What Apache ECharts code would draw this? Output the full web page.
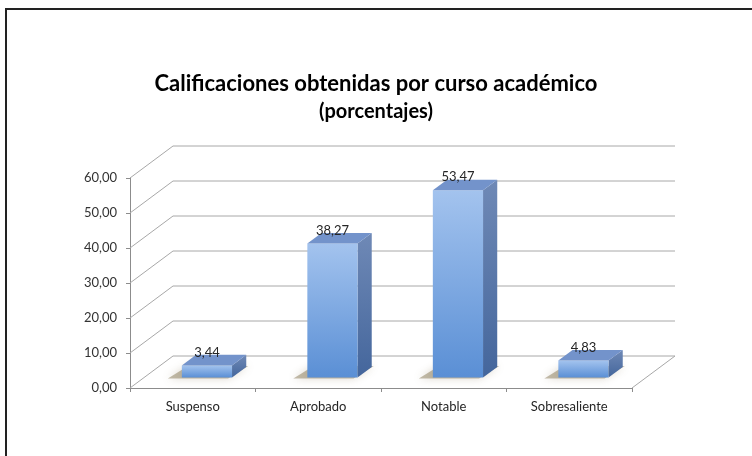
<!DOCTYPE html>
<html>
<head>
<meta charset="utf-8">
<script src="https://cdn.jsdelivr.net/npm/echarts@6/dist/echarts.min.js"></script>
<style>
html, body { margin: 0; padding: 0; background: #fff; }
#chart { width: 752px; height: 456px; }
</style>
</head>
<body>
<div id="chart"></div>
<script>
var categories = ["Suspenso", "Aprobado", "Notable", "Sobresaliente"];
var percentages = [3.44, 38.27, 53.47, 4.83];
var yTicks = [0, 10, 20, 30, 40, 50, 60];

// fake 3d: offset of the back wall, depth range and width of the bars
var DX = 43, DY = -32;
var D0 = 0.33, D1 = 0.66;
var BAR = 0.4;
var FONT = "Lato, 'Open Sans', sans-serif";

function fmt(v) {
    return v.toFixed(2).replace(".", ",");
}
function shift(p, d) {
    return [p[0] + DX * d, p[1] + DY * d];
}

function renderWalls(params, api) {
    var cs = params.coordSys;
    var v = api.value(1);
    var y = api.coord([0, v])[1];
    var line = { stroke: "#a8a8a8", lineWidth: 1, fill: null };
    var children = [{
        type: "polyline",
        shape: { points: [[cs.x, y], [cs.x + DX, y + DY], [cs.x + cs.width + DX, y + DY]] },
        style: line
    }];
    if (v === 0) {
        children.push({
            type: "line",
            shape: { x1: cs.x + cs.width, y1: y, x2: cs.x + cs.width + DX, y2: y + DY },
            style: line
        });
    }
    return { type: "group", children: children };
}

function renderBar(params, api) {
    var i = api.value(0), v = api.value(1);
    var base = api.coord([i, 0]);
    var top = api.coord([i, v]);
    var bw = api.size([1, 0])[0] * BAR;
    var xl = base[0] - bw / 2, xr = base[0] + bw / 2;
    var fbl = shift([xl, base[1]], D0), fbr = shift([xr, base[1]], D0);
    var ftl = shift([xl, top[1]], D0), ftr = shift([xr, top[1]], D0);
    var bbl = shift([xl, base[1]], D1), bbr = shift([xr, base[1]], D1);
    var btl = shift([xl, top[1]], D1), btr = shift([xr, top[1]], D1);
    return {
        type: "group",
        children: [
            {
                type: "polygon",
                shape: { points: [[fbl[0] - 14, fbl[1] + 1], [fbr[0] - 4, fbr[1] + 1], [bbr[0] + 2, bbr[1] - 1], [bbl[0] - 8, bbl[1] - 1]] },
                style: { fill: "rgba(125,108,70,0.45)", shadowBlur: 8, shadowColor: "rgba(125,108,70,0.6)" }
            },
            {
                type: "polygon",
                shape: { points: [ftr, btr, bbr, fbr] },
                style: {
                    fill: new echarts.graphic.LinearGradient(0, 0, 0, 1, [
                        { offset: 0, color: "#6f89b6" },
                        { offset: 1, color: "#44669c" }
                    ])
                }
            },
            {
                type: "rect",
                shape: { x: ftl[0], y: ftl[1], width: bw, height: fbl[1] - ftl[1] },
                style: {
                    fill: new echarts.graphic.LinearGradient(0, 0, 0, 1, [
                        { offset: 0, color: "#a3c3ee" },
                        { offset: 1, color: "#5a8fd5" }
                    ])
                }
            },
            {
                type: "polygon",
                shape: { points: [ftl, ftr, btr, btl] },
                style: { fill: "#7393cb" }
            },
            {
                type: "text",
                style: {
                    text: fmt(v), x: ftl[0] + bw / 2, y: ftl[1] - 13,
                    align: "center", verticalAlign: "middle",
                    fontSize: 13, fontFamily: FONT, fill: "#262626"
                }
            }
        ]
    };
}

var chart = echarts.init(document.getElementById("chart"));
chart.setOption({
    animation: false,
    backgroundColor: "#fff",
    title: {
        text: "{a|Calificaciones obtenidas por curso académico}\n{b|(porcentajes)}",
        left: "center",
        top: 64,
        textStyle: {
            fontFamily: FONT, color: "#000",
            rich: {
                a: { fontSize: 22, fontWeight: "bold", fontFamily: FONT, color: "#000", lineHeight: 29 },
                b: { fontSize: 20, fontWeight: "bold", fontFamily: FONT, color: "#000", lineHeight: 27 }
            }
        }
    },
    graphic: [{
        type: "rect",
        shape: { x: 6, y: 9, width: 900, height: 600 },
        style: { fill: null, stroke: "#222", lineWidth: 2 }
    }],
    grid: { left: 130, right: 120, top: 178, bottom: 68 },
    xAxis: {
        type: "category",
        data: categories,
        axisLine: { lineStyle: { color: "#8c8c8c" } },
        axisTick: { show: true, length: 4, lineStyle: { color: "#8c8c8c" } },
        axisLabel: { fontSize: 13, fontFamily: FONT, color: "#262626", margin: 12 }
    },
    yAxis: {
        type: "value",
        min: 0, max: 60, interval: 10,
        axisLine: { show: true, lineStyle: { color: "#8c8c8c" } },
        axisTick: { show: true, length: 4, lineStyle: { color: "#8c8c8c" } },
        splitLine: { show: false },
        axisLabel: { fontSize: 13, fontFamily: FONT, color: "#333", margin: 13, formatter: fmt }
    },
    series: [
        {
            type: "custom",
            renderItem: renderWalls,
            data: yTicks.map(function (v) { return [0, v]; }),
            encode: { x: 0, y: 1 },
            silent: true,
            z: 1
        },
        {
            type: "custom",
            renderItem: renderBar,
            data: percentages.map(function (v, i) { return [i, v]; }),
            encode: { x: 0, y: 1 },
            z: 2
        }
    ]
});
</script>
</body>
</html>
